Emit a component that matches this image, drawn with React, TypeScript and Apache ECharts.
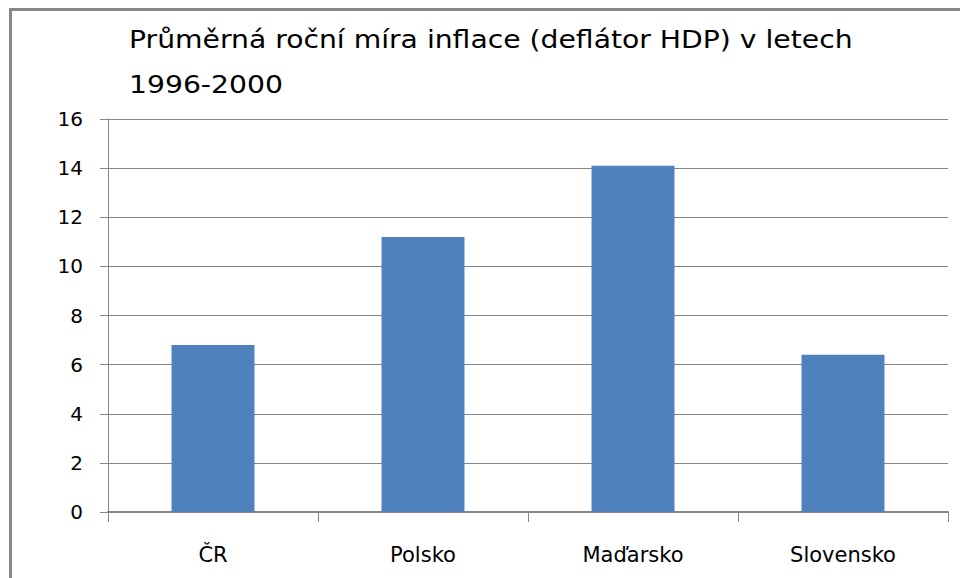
import React, { useEffect, useRef } from "react";
import * as echarts from "echarts";

const titleLines = ["Průměrná roční míra inflace (deflátor HDP) v letech", "1996-2000"];
const categories = ["ČR", "Polsko", "Maďarsko", "Slovensko"];
const values = [6.8, 11.2, 14.1, 6.4];
const yMin = 0;
const yMax = 16;
const yStep = 2;

const FONT = "DejaVu Sans";
const GRAY = "#868686";

export default function App() {
  const ref = useRef<HTMLDivElement>(null);
  useEffect(() => {
    if (!ref.current) return;
    const chart = echarts.init(ref.current, null, { renderer: "svg" });
    chart.setOption({
      animation: false,
      backgroundColor: "#ffffff",
      graphic: [
        {
          type: "rect",
          shape: { x: 10.5, y: 9.5, width: 980, height: 600 },
          style: { fill: "none", stroke: "#878787", lineWidth: 3 },
          silent: true,
        },
        ...titleLines.map((t, i) => ({
          type: "text",
          x: 129,
          y: 39.5 + i * 45,
          scaleX: 1.13,
          silent: true,
          style: {
            text: t,
            fontFamily: FONT,
            fontSize: 25,
            fill: "#000000",
            align: "left",
            verticalAlign: "middle",
          },
        })),
      ],
      grid: { left: 108, right: 12, top: 119, bottom: 66, containLabel: false },
      xAxis: {
        type: "category",
        data: categories,
        axisLine: { show: true, lineStyle: { color: GRAY, width: 2 } },
        axisTick: { show: true, length: 10, lineStyle: { color: GRAY, width: 1 } },
        axisLabel: { margin: 32, fontFamily: FONT, fontSize: 21, color: "#000000" },
        splitLine: { show: false },
      },
      yAxis: {
        type: "value",
        min: yMin,
        max: yMax,
        interval: yStep,
        axisLine: { show: true, lineStyle: { color: GRAY, width: 1 } },
        axisTick: { show: true, length: 8, lineStyle: { color: GRAY, width: 1 } },
        axisLabel: { margin: 25, fontFamily: FONT, fontSize: 20, color: "#000000" },
        splitLine: { show: true, lineStyle: { color: GRAY, width: 1 } },
      },
      series: [
        {
          type: "bar",
          data: values,
          barWidth: "39.5%",
          itemStyle: { color: "#4F81BD" },
        },
      ],
    });
    return () => chart.dispose();
  }, []);
  return <div ref={ref} style={{ width: 960, height: 578, position: "absolute", left: 0, top: 0 }} />;
}
